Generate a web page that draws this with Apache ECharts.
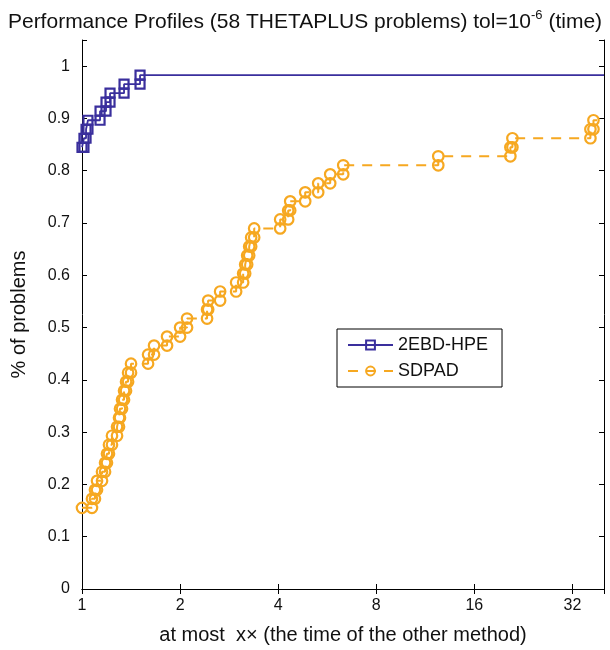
<!DOCTYPE html>
<html>
<head>
<meta charset="UTF-8">
<title>Performance Profiles</title>
<script src="https://cdn.jsdelivr.net/npm/echarts@6/dist/echarts.min.js"></script>
<style>
  html, body { margin: 0; padding: 0; background: #fff; }
  #main { width: 610px; height: 650px; }
</style>
</head>
<body>
<div id="main"></div>
<script>
// 58 problems, y is the fraction solved within ratio x
var nProblems = 58;
var xMax = 40;
var xTicks = [1, 2, 4, 8, 16, 32];
var yTicks = [0, 0.1, 0.2, 0.3, 0.4, 0.5, 0.6, 0.7, 0.8, 0.9, 1];

// 2EBD-HPE: count solved at ratio 1, then the ratio of each further step
var hpeStart = 49;
var hpeSteps = [1.014, 1.029, 1.043, 1.136, 1.185, 1.219, 1.346, 1.507];

// SDPAD
var sdpadStart = 9;
var sdpadSteps = [1.073, 1.096, 1.112, 1.152, 1.177, 1.193, 1.210, 1.236, 1.281, 1.299,
  1.308, 1.327, 1.346, 1.365, 1.385, 1.414, 1.595, 1.664, 1.824, 2.000,
  2.101, 2.420, 2.439, 2.654, 2.972, 3.123, 3.168, 3.213, 3.259, 3.305,
  3.376, 4.057, 4.293, 4.355, 4.842, 5.308, 5.778, 6.335, 12.40, 20.64,
  20.94, 36.34, 37.13];

function stairs(start, steps) {
  var k = start;
  var pts = [[1, k / nProblems]];
  steps.forEach(function (x) {
    pts.push([x, k / nProblems]);
    k++;
    pts.push([x, k / nProblems]);
  });
  // carry the last level to the right edge, no marker there
  pts.push({ value: [xMax, k / nProblems], symbol: 'none' });
  return pts;
}

var blue = '#3a2f9d';
var orange = '#f6a821';
var font = 'Liberation Sans, Arial, sans-serif';

var chart = echarts.init(document.getElementById('main'));

var axisCommon = {
  axisLine: { show: true, lineStyle: { color: '#000', width: 1 } },
  axisTick: { show: true, inside: true, length: 5, lineStyle: { color: '#000' } },
  splitLine: { show: false }
};

var option = {
  animation: false,
  backgroundColor: '#fff',
  title: {
    text: 'Performance Profiles (58 THETAPLUS problems) tol=10{sup|-6} (time)',
    left: 'center',
    top: 4,
    textStyle: {
      fontFamily: font, fontSize: 21, fontWeight: 'normal', color: '#111', lineHeight: 26,
      rich: {
        sup: { fontFamily: font, fontSize: 13, color: '#111', verticalAlign: 'top', lineHeight: 13 }
      }
    }
  },
  legend: {
    orient: 'vertical',
    left: 337,
    top: 329,
    padding: [6, 14, 6, 10],
    itemGap: 6,
    itemWidth: 45,
    itemHeight: 11,
    borderColor: '#000',
    borderWidth: 1,
    backgroundColor: '#fff',
    textStyle: { fontFamily: font, fontSize: 18, color: '#111', lineHeight: 20 },
    data: ['2EBD-HPE', 'SDPAD']
  },
  grid: { left: 82, right: 6, top: 40, bottom: 60, containLabel: false },
  xAxis: [
    Object.assign({
      type: 'log', logBase: 2, min: 1, max: xMax, position: 'bottom',
      name: 'at most  x\u00d7 (the time of the other method)',
      nameLocation: 'middle', nameGap: 36,
      nameTextStyle: { fontFamily: font, fontSize: 20, color: '#111' },
      axisLabel: {
        fontFamily: font, fontSize: 16, color: '#111', margin: 9,
        formatter: function (v) {
          var r = Math.round(v);
          return (Math.abs(v - r) < 1e-6 && xTicks.indexOf(r) >= 0) ? String(r) : '';
        }
      }
    }, axisCommon),
    Object.assign({
      type: 'log', logBase: 2, min: 1, max: xMax, position: 'top',
      axisLabel: { show: false }
    }, axisCommon)
  ],
  yAxis: [
    Object.assign({
      type: 'value', min: 0, max: 1.05, interval: 0.1, position: 'left',
      name: '% of problems',
      nameLocation: 'middle', nameGap: 53,
      nameTextStyle: { fontFamily: font, fontSize: 20, color: '#111' },
      axisLabel: {
        fontFamily: font, fontSize: 16, color: '#111', margin: 12,
        formatter: function (v) {
          for (var i = 0; i < yTicks.length; i++) {
            if (Math.abs(v - yTicks[i]) < 1e-6) return String(yTicks[i]);
          }
          return '';
        }
      }
    }, axisCommon),
    Object.assign({
      type: 'value', min: 0, max: 1.05, interval: 0.1, position: 'right',
      axisLabel: { show: false }
    }, axisCommon)
  ],
  series: [
    {
      name: '2EBD-HPE',
      type: 'line',
      data: stairs(hpeStart, hpeSteps),
      symbol: 'rect',
      symbolSize: 9,
      showAllSymbol: true,
      lineStyle: { color: blue, width: 1.8 },
      itemStyle: { color: 'rgba(255,255,255,0)', borderColor: blue, borderWidth: 2.2 },
      emphasis: { disabled: true },
      z: 3
    },
    {
      name: 'SDPAD',
      type: 'line',
      data: stairs(sdpadStart, sdpadSteps),
      symbol: 'circle',
      symbolSize: 10.5,
      showAllSymbol: true,
      lineStyle: { color: orange, width: 2, type: [10, 8] },
      itemStyle: { color: 'rgba(255,255,255,0)', borderColor: orange, borderWidth: 2.2 },
      emphasis: { disabled: true },
      z: 2
    }
  ]
};

chart.setOption(option);
</script>
</body>
</html>
